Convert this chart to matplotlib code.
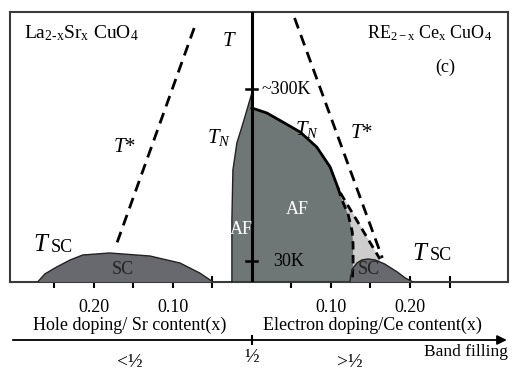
import numpy as np
import matplotlib
matplotlib.use("Agg")
import matplotlib.pyplot as plt

# doping axis: hole side drawn to the left (negative), electron side to the right
# y values are schematic temperature units (0 = bottom of panel)

# hole-doped SC dome (LSCO)
hole_sc_x = [0.271, 0.262, 0.247, 0.230, 0.214, 0.180, 0.129, 0.091, 0.066, 0.049]
hole_sc_t = [0, 8, 15, 22, 27, 29, 26, 19, 9, 0]

# hole-doped AF region edge
hole_af_x = [0.0253, 0.0253, 0.024, 0.019, 0.0127, 0.0063, 0.0]
hole_af_t = [0, 62, 112, 139, 155, 172, 189]

# electron-doped AF: solid T_N part, then dashed boundary
elec_tn_x = [0.0, 0.019, 0.039, 0.061, 0.082, 0.099, 0.109]
elec_tn_t = [174, 169, 160, 150, 135, 115, 94]
elec_afb_x = [0.109, 0.114, 0.122, 0.127, 0.128, 0.128, 0.127]
elec_afb_t = [94, 82, 67, 50, 37, 19, 0]

# light grey region right edge (dashed)
grey_x = [0.112, 0.162]
grey_t = [89, 23]

# electron-doped SC dome
elec_sc_x = [0.124, 0.125, 0.128, 0.133, 0.139, 0.147, 0.156, 0.168, 0.184, 0.194, 0.204]
elec_sc_t = [0, 6, 14, 19, 22, 23, 22, 18, 10, 4, 0]

# pseudogap T* lines
hole_tstar_x = [0.073, 0.173]
hole_tstar_t = [254, 34]
elec_tstar_x = [0.054, 0.165]
elec_tstar_t = [264, 24]

tick_pos = [0.05, 0.10, 0.15, 0.20, 0.25]
tick_lab = ["", "0.10", "", "0.20", ""]

plt.rcParams['font.family'] = ['Liberation Serif', 'DejaVu Serif']
plt.rcParams['mathtext.fontset'] = 'custom'
plt.rcParams['mathtext.rm'] = 'Liberation Serif'
plt.rcParams['mathtext.it'] = 'Liberation Serif:italic'

af_col = '#6f7776'
sc_col = '#68686f'
light_col = '#cdcdcd'

fig = plt.figure(figsize=(5.18, 3.70), dpi=100)
ax = fig.add_axes([10/518, (370-282)/370, 498/518, 270/370])
ax.set_xlim(-0.306, 0.324)
ax.set_ylim(0, 270)

hx = -np.array(hole_sc_x)
ex = np.array(elec_sc_x)

# light grey wedge
ax.fill([elec_afb_x[0], grey_x[1], grey_x[1], elec_afb_x[-1]],
        [elec_afb_t[0], grey_t[1], 0, 0], color=light_col, lw=0, zorder=1)

# AF regions
lx = -np.array(hole_af_x)
ax.fill(np.r_[lx, 0], np.r_[hole_af_t, 0], color=af_col, lw=0, zorder=2)
ax.plot(lx, hole_af_t, color='#222222', lw=1.0, zorder=3)
rx = np.r_[elec_tn_x, elec_afb_x[1:], 0]
rt = np.r_[elec_tn_t, elec_afb_t[1:], 0]
ax.fill(rx, rt, color=af_col, lw=0, zorder=2)
ax.plot(elec_tn_x, elec_tn_t, color='black', lw=2.0, zorder=4)
ax.plot(elec_afb_x, elec_afb_t, color='black', lw=2.0, ls=(0, (3, 2)), zorder=4)
ax.plot(grey_x, grey_t, color='black', lw=2.0, ls=(0, (3, 2)), zorder=4)

# SC domes
ax.fill(hx, hole_sc_t, color=sc_col, lw=0, zorder=3)
ax.plot(hx, hole_sc_t, color='#222222', lw=1.0, zorder=4)
ax.fill(ex, elec_sc_t, color=sc_col, lw=0, zorder=3)
ax.plot(ex, elec_sc_t, color='#222222', lw=1.0, zorder=4)

# T* lines
ax.plot(-np.array(hole_tstar_x), hole_tstar_t, color='black', lw=2.0, ls=(0, (4, 2.5)), zorder=4)
ax.plot(elec_tstar_x, elec_tstar_t, color='black', lw=2.0, ls=(0, (4, 2.5)), zorder=4)

# centre line with temperature marks
ax.axvline(0, color='black', lw=2.2, zorder=5)
for tt in [193, 21]:
    ax.plot([-0.007, 0.007], [tt, tt], color='black', lw=1.8, zorder=5)
ax.text(0.0125, 193, '~300K', fontsize=13, va='center', ha='left')
ax.text(0.027, 21, '30K', fontsize=13, va='center', ha='left')

for s in ax.spines.values():
    s.set_color('#3a3a3a')
    s.set_linewidth(1.5)
ax.set_yticks([])
ticks = [-t for t in tick_pos] + tick_pos
ax.set_xticks(ticks)
ax.set_xticklabels(tick_lab + tick_lab, fontsize=13)
ax.tick_params(axis='x', direction='inout', length=8, width=1.5, pad=8, color='black')

# labels inside
ax.text(-0.288, 249, r'La$_{\mathrm{2\text{-}x}}$Sr$_{\mathrm{x}}$ CuO$_{4}$', fontsize=14, va='center')
ax.text(0.146, 249, r'RE$_{\mathrm{2-x}}$ Ce$_{\mathrm{x}}$ CuO$_{4}$', fontsize=13, va='center')
ax.text(0.244, 215, '(c)', fontsize=13, ha='center', va='center')
ax.text(-0.028, 240, r'$T$', fontsize=15, ha='center', va='center')
ax.text(-0.161, 134, r'$T$*', fontsize=15, ha='center', va='center')
ax.text(0.139, 149, r'$T$*', fontsize=15, ha='center', va='center')
ax.text(-0.041, 145, r'$T_N$', fontsize=15, ha='center', va='center')
ax.text(0.070, 152, r'$T_N$', fontsize=15, ha='center', va='center')
ax.text(0.058, 72, 'AF', fontsize=13, color='white', ha='center', va='center', zorder=6)
ax.text(-0.013, 52, 'AF', fontsize=13, color='white', ha='center', va='center', zorder=6)
ax.text(-0.163, 12, 'SC', fontsize=13, color='#222222', ha='center', va='center', zorder=6)
ax.text(0.148, 12, 'SC', fontsize=13, color='#222222', ha='center', va='center', zorder=6)
ax.text(-0.255, 37, r'$T$', fontsize=18, ha='right', va='center')
ax.text(-0.255, 35, 'SC', fontsize=13, ha='left', va='center')
ax.text(0.225, 28, r'$T$', fontsize=18, ha='right', va='center')
ax.text(0.225, 26, 'SC', fontsize=13, ha='left', va='center')

# axis captions and band filling arrow
ax.text(-0.155, -43, 'Hole doping/ Sr content(x)', fontsize=13, ha='center', va='center', clip_on=False)
ax.text(0.153, -43, 'Electron doping/Ce content(x)', fontsize=13, ha='center', va='center', clip_on=False)
ax.annotate('', xy=(0.326, -58), xytext=(-0.306, -58), xycoords='data',
            arrowprops=dict(arrowstyle='-|>', color='black', lw=1.3, mutation_scale=14), annotation_clip=False)
ax.plot([0, 0], [-54, -62], color='black', lw=1.5, clip_on=False)
ax.text(0, -75, '½', fontsize=14, ha='center', va='center', clip_on=False)
ax.text(-0.154, -80, '<½', fontsize=14, ha='center', va='center', clip_on=False)
ax.text(0.124, -80, '>½', fontsize=14, ha='center', va='center', clip_on=False)
ax.text(0.324, -70, 'Band filling', fontsize=12.5, ha='right', va='center', clip_on=False)

fig.savefig('out.png', dpi=100)
